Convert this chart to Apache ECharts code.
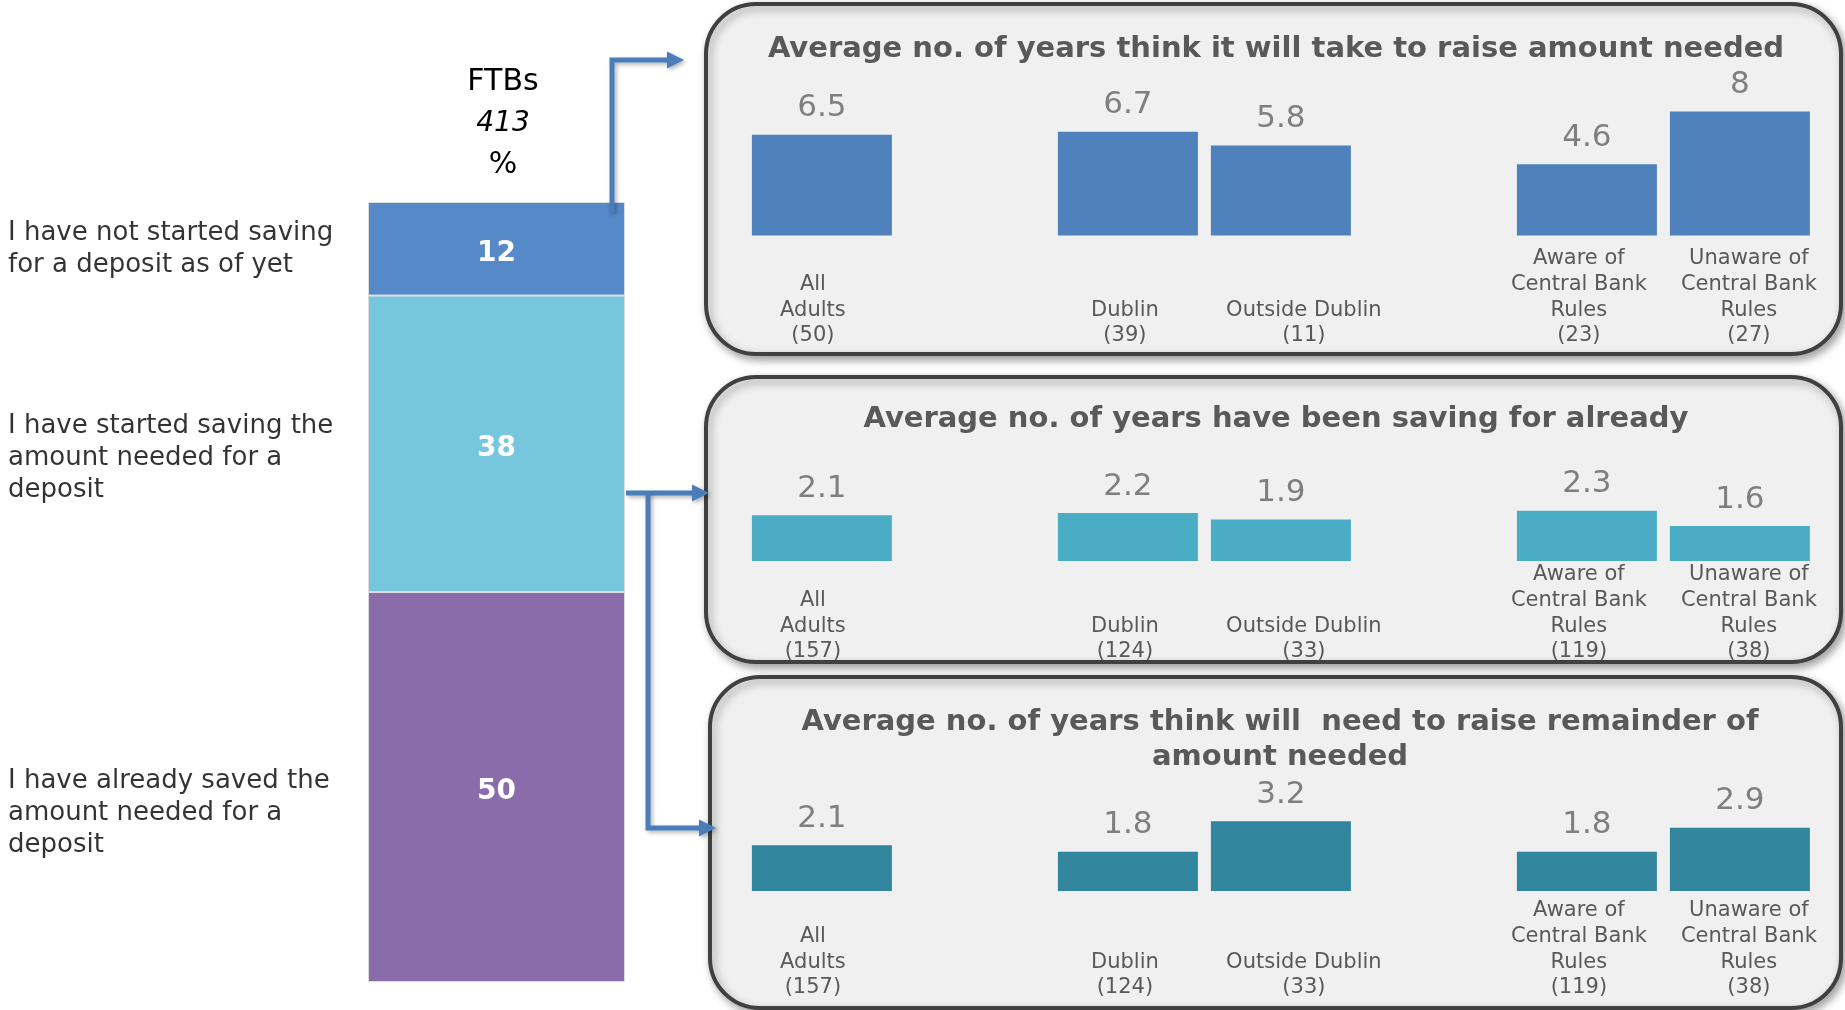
<!DOCTYPE html>
<html lang="en">
<head>
  <meta charset="UTF-8">
  <title>FTBs - saving for a deposit</title>
  <style>
    html, body { margin: 0; padding: 0; background: #fff; }
    #main { width: 1845px; height: 1010px; }
  </style>
</head>
<body>
  <div id="main"></div>
  <script src="https://cdn.jsdelivr.net/npm/echarts@6.0.0/dist/echarts.min.js"></script>
  <script>
    // left stacked column
    var statements = [
      'I have not started saving\nfor a deposit as of yet',
      'I have started saving the\namount needed for a\ndeposit',
      'I have already saved the\namount needed for a\ndeposit'
    ];
    var shares = [12, 38, 50];
    var baseName = 'FTBs';
    var baseCount = 413;

    // the three panels
    var groups = ['All\nAdults', 'Dublin', 'Outside Dublin', 'Aware of\nCentral Bank\nRules', 'Unaware of\nCentral Bank\nRules'];
    var baseNotStarted = [50, 39, 11, 23, 27];
    var baseStarted = [157, 124, 33, 119, 38];
    var yearsToRaise = [6.5, 6.7, 5.8, 4.6, 8];
    var yearsSaving = [2.1, 2.2, 1.9, 2.3, 1.6];
    var yearsRemainder = [2.1, 1.8, 3.2, 1.8, 2.9];
    var panelTitles = [
      'Average no. of years think it will take to raise amount needed',
      'Average no. of years have been saving for already',
      'Average no. of years think will  need to raise remainder of\namount needed'
    ];

    var FONT = 'DejaVu Sans';
    var slots = [0, 2, 3, 5, 6];          // gaps between the groups
    var slotCount = 7;
    var labelLines = 4;                    // group labels sit on a common baseline
    var labelNudge = [-9, -3, 23, -8, 9];  // small horizontal shifts of the group labels

    var panels = [
      { values: yearsToRaise, bases: baseNotStarted, color: '#4f81bd', top: 80.5, height: 155, max: 10, margin: 10.5, titleTop: 32, titleX: 1276 },
      { values: yearsSaving, bases: baseStarted, color: '#4bacc6', top: 473.8, height: 87.2, max: 4, margin: 1, titleTop: 402, titleX: 1276 },
      { values: yearsRemainder, bases: baseStarted, color: '#31859c', top: 803.8, height: 87.2, max: 4, margin: 7, titleTop: 705, titleX: 1280 }
    ];

    var myChart = echarts.init(document.getElementById('main'));

    function slotCategories(bases) {
      var cats = [];
      for (var i = 0; i < slotCount; i++) cats.push('');
      groups.forEach(function (g, i) {
        var text = g + '\n(' + bases[i] + ')';
        while (text.split('\n').length < labelLines) text = '\n' + text;
        var n = labelNudge[i];
        cats[slots[i]] = {
          value: text,
          textStyle: { padding: n > 0 ? [0, 0, 0, 2 * n] : [0, -2 * n, 0, 0] }
        };
      });
      return cats;
    }

    function slotValues(values) {
      var out = [];
      for (var i = 0; i < slotCount; i++) out.push('-');
      values.forEach(function (v, i) { out[slots[i]] = v; });
      return out;
    }

    var grids = [{ left: 368, width: 257, top: 202, height: 780, outerBoundsMode: 'none' }];
    var xAxes = [{
      type: 'category', gridIndex: 0, data: [baseName],
      axisLine: { show: false }, axisTick: { show: false }, axisLabel: { show: false }
    }];
    var yAxes = [{ type: 'value', gridIndex: 0, min: 0, max: 100, show: false }];
    var series = [];

    var stackColors = ['#5689c8', '#76c6dd', '#8a6cab'];
    // stack from the bottom segment up
    for (var i = shares.length - 1; i >= 0; i--) {
      series.push({
        type: 'bar', stack: 'ftb', xAxisIndex: 0, yAxisIndex: 0,
        barWidth: '100%',
        data: [shares[i]],
        itemStyle: { color: stackColors[i], borderColor: '#dcdcdc', borderWidth: 1 },
        label: {
          show: true, position: 'inside', offset: [0, 5], color: '#fff',
          fontFamily: FONT, fontWeight: 'bold', fontSize: 28
        },
        z: 3
      });
    }

    // statement text next to each segment
    var statementDy = [0, 14.5, 26.5];
    var statementPoints = statements.map(function (s, i) {
      var below = 0;
      for (var j = i + 1; j < shares.length; j++) below += shares[j];
      return {
        value: [0, below + shares[i] / 2],
        label: { offset: [-488.5, statementDy[i]], formatter: s }
      };
    });
    series.push({
      type: 'scatter', xAxisIndex: 0, yAxisIndex: 0,
      symbolSize: 0, silent: true,
      data: statementPoints,
      label: {
        show: true, position: 'inside', align: 'left', verticalAlign: 'middle',
        color: '#000', fontFamily: FONT, fontSize: 26, lineHeight: 32
      }
    });

    var titles = [{
      left: 503, top: 61, textAlign: 'center', padding: 0,
      text: '{a|' + baseName + '}\n{b|' + baseCount + '}\n{a|%}',
      textStyle: {
        fontWeight: 'normal',
        rich: {
          a: { fontFamily: FONT, fontSize: 30, fontWeight: 'normal', color: '#000', lineHeight: 41.5 },
          b: { fontFamily: FONT, fontSize: 28, fontWeight: 'normal', fontStyle: 'italic', color: '#000', lineHeight: 41.5 }
        }
      }
    }];

    panels.forEach(function (p, k) {
      var gi = k + 1;
      grids.push({ left: 745.4, width: 1071, top: p.top, height: p.height, outerBoundsMode: 'none' });
      xAxes.push({
        type: 'category', gridIndex: gi, data: slotCategories(p.bases),
        axisLine: { show: false }, axisTick: { show: false },
        axisLabel: {
          interval: 0, color: '#595959', fontFamily: FONT, fontSize: 21,
          lineHeight: 25.7, margin: p.margin, hideOverlap: false
        }
      });
      yAxes.push({ type: 'value', gridIndex: gi, min: 0, max: p.max, show: false });
      series.push({
        type: 'bar', xAxisIndex: gi, yAxisIndex: gi,
        barWidth: 140,
        data: slotValues(p.values),
        itemStyle: { color: p.color },
        label: {
          show: true, position: 'top', distance: 11,
          color: '#7f7f7f', fontFamily: FONT, fontSize: 31
        },
        z: 3
      });
      titles.push({
        text: panelTitles[k], left: p.titleX, top: p.titleTop, textAlign: 'center', padding: 0,
        textStyle: { fontFamily: FONT, fontWeight: 'bold', fontSize: 29, lineHeight: 35, color: '#595959' }
      });
    });

    function panelBox(x, y, w, h) {
      return {
        type: 'rect', z: 0, silent: true,
        shape: { x: x, y: y, width: w, height: h, r: 50 },
        style: {
          fill: '#f0f0f0', stroke: '#404040', lineWidth: 4,
          shadowBlur: 8, shadowOffsetX: 3, shadowOffsetY: 4, shadowColor: 'rgba(0,0,0,0.35)'
        }
      };
    }

    var arrowStyle = {
      stroke: '#4a7ebb', lineWidth: 5, fill: null,
      shadowBlur: 4, shadowOffsetX: 2, shadowOffsetY: 2, shadowColor: 'rgba(0,0,0,0.3)'
    };
    var headStyle = {
      fill: '#4a7ebb',
      shadowBlur: 4, shadowOffsetX: 2, shadowOffsetY: 2, shadowColor: 'rgba(0,0,0,0.3)'
    };
    function connector(points, tipX, tipY) {
      return [
        { type: 'polyline', z: 10, silent: true, shape: { points: points }, style: arrowStyle },
        {
          type: 'polygon', z: 10, silent: true,
          shape: { points: [[tipX - 17, tipY - 8.5], [tipX, tipY], [tipX - 17, tipY + 8.5]] },
          style: headStyle
        }
      ];
    }

    var graphics = [
      panelBox(706, 4, 1135, 350),
      panelBox(706, 377, 1135, 285),
      panelBox(710, 677, 1131, 331)
    ]
      .concat(connector([[612, 212], [612, 60], [668, 60]], 684, 60))
      .concat(connector([[626, 493], [694, 493]], 709, 493))
      .concat(connector([[648, 493], [648, 828], [700, 828]], 716, 828));

    var option = {
      backgroundColor: '#ffffff',
      animation: false,
      title: titles,
      graphic: graphics,
      grid: grids,
      xAxis: xAxes,
      yAxis: yAxes,
      series: series
    };

    myChart.setOption(option);
  </script>
</body>
</html>
